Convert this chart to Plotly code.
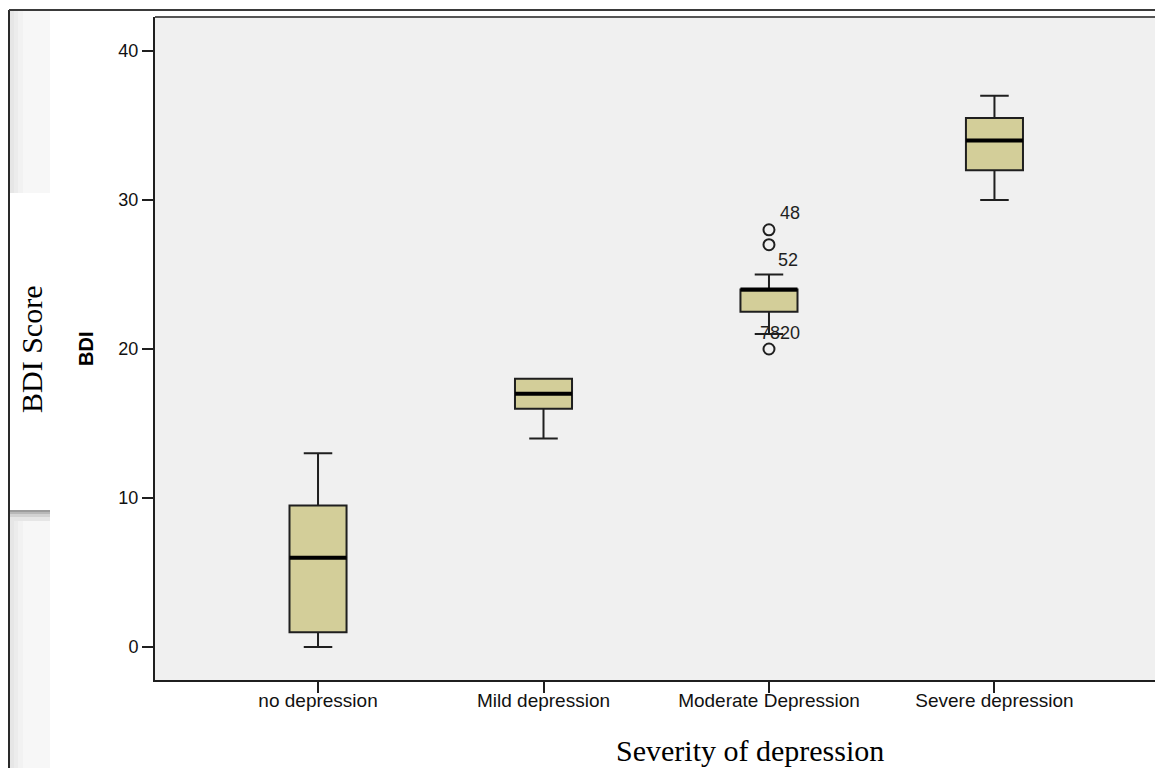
import plotly.graph_objects as go

# Box-plot summary of BDI score per severity group
categories = ["no depression", "Mild depression", "Moderate Depression", "Severe depression"]
lower_whisker = [0, 14, 21, 30]
q1 = [1, 16, 22.5, 32]
median = [6, 17, 24, 34]
q3 = [9.5, 18, 24, 35.5]
upper_whisker = [13, 18, 25, 37]

# Outlying cases (group index, value)
outlier_group = [2, 2, 2]
outlier_value = [28, 27, 20]

# Case labels printed beside the outliers (group index, level, text)
case_label_group = [2, 2, 2]
case_label_level = [29.1, 26.0, 21.1]
case_label_text = ["48", "52", "7820"]

y_ticks = [0, 10, 20, 30, 40]

# ---- layout geometry (pixels) ----
W, H = 1155, 768
ML, MR, MT, MB = 155, 0, 17, 88
BOX_W = 0.253
FILL = "#D3CE99"
INK = "#1f1f1f"
# horizontal nudge (data units) of each case label from its group centre
LABEL_DX = [0.04, 0.03, -0.05]


def px_x(p):
    return (p - ML) / (W - ML - MR)


def px_y(p):
    return (H - MB - p) / (H - MT - MB)


fig = go.Figure()

for i, cat in enumerate(categories):
    fig.add_trace(go.Box(
        x=[i], q1=[q1[i]], median=[median[i]], q3=[q3[i]],
        lowerfence=[lower_whisker[i]], upperfence=[upper_whisker[i]],
        width=BOX_W, whiskerwidth=0.5,
        fillcolor=FILL, line=dict(color=INK, width=2),
        boxpoints=False, name=cat, showlegend=False, hoverinfo="skip",
    ))
    # heavier median bar
    fig.add_trace(go.Scatter(
        x=[i - BOX_W / 2, i + BOX_W / 2], y=[median[i], median[i]],
        mode="lines", line=dict(color="#000000", width=4),
        showlegend=False, hoverinfo="skip",
    ))

fig.add_trace(go.Scatter(
    x=outlier_group, y=outlier_value, mode="markers",
    marker=dict(symbol="circle-open", size=11, color=INK, line=dict(width=2)),
    showlegend=False, hoverinfo="skip",
))

annotations = []
for g, lvl, txt, dx in zip(case_label_group, case_label_level, case_label_text, LABEL_DX):
    annotations.append(dict(
        x=g + dx, y=lvl, xref="x", yref="y", text=txt, showarrow=False,
        xanchor="left", yanchor="middle",
        font=dict(family="Liberation Sans, Arial", size=18, color=INK),
    ))

# axis titles
annotations.append(dict(
    x=px_x(86), y=px_y(349), xref="paper", yref="paper", text="<b>BDI</b>",
    textangle=-90, showarrow=False, xanchor="center", yanchor="middle",
    font=dict(family="Liberation Sans, Arial", size=20, color="#000000"),
))
annotations.append(dict(
    x=px_x(31), y=px_y(350), xref="paper", yref="paper", text="BDI Score",
    textangle=-90, showarrow=False, xanchor="center", yanchor="middle",
    font=dict(family="Liberation Serif, Times New Roman", size=30, color="#000000"),
))
annotations.append(dict(
    x=px_x(750), y=px_y(750), xref="paper", yref="paper", text="Severity of depression",
    showarrow=False, xanchor="center", yanchor="middle",
    font=dict(family="Liberation Serif, Times New Roman", size=30, color="#000000"),
))

shapes = []


def rect(x0, y0, x1, y1, color):
    shapes.append(dict(type="rect", xref="paper", yref="paper",
                       x0=px_x(x0), x1=px_x(x1), y0=px_y(y1), y1=px_y(y0),
                       fillcolor=color, line=dict(width=0), layer="above"))


def line(x0, y0, x1, y1, color, width):
    shapes.append(dict(type="line", xref="paper", yref="paper",
                       x0=px_x(x0), x1=px_x(x1), y0=px_y(y0), y1=px_y(y1),
                       line=dict(color=color, width=width), layer="above"))


# shaded side strips beside the title panel
for top, bot in [(11, 193), (510, 768)]:
    rect(10, top, 50, bot, "#f7f7f7")
    rect(10, top, 14, bot, "#e6e6e6")
    rect(14, top, 18, bot, "#ececec")
    rect(18, top, 23, bot, "#f2f2f2")
rect(10, 510, 50, 512, "#9c9c9c")
rect(10, 512, 50, 514, "#b8b8b8")
rect(10, 514, 50, 517, "#d2d2d2")
rect(10, 517, 50, 521, "#e6e6e6")

# outer frame
line(9, 10, 9, 770, "#2a2a2a", 2)
line(9, 10, 1160, 10, "#3a3a3a", 2)
# top edge of the data region
line(155, 17, 1160, 17, "#555555", 2)

fig.update_layout(
    width=W, height=H,
    margin=dict(l=ML, r=MR, t=MT, b=MB, pad=0),
    paper_bgcolor="#ffffff", plot_bgcolor="#f0f0f0",
    annotations=annotations, shapes=shapes,
    xaxis=dict(
        range=[-0.723, 3.712], tickvals=list(range(len(categories))), ticktext=categories,
        showgrid=False, zeroline=False, showline=True, linecolor=INK, linewidth=2,
        ticks="outside", ticklen=11, tickwidth=2, tickcolor=INK,
        ticklabelstandoff=-9,
        tickfont=dict(family="Liberation Sans, Arial", size=19, color="#111111"),
    ),
    yaxis=dict(
        range=[-2.21, 42.28], tickvals=y_ticks,
        showgrid=False, zeroline=False, showline=True, linecolor=INK, linewidth=2,
        ticks="outside", ticklen=11, tickwidth=2, tickcolor=INK,
        tickfont=dict(family="Liberation Sans, Arial", size=18, color="#111111"),
    ),
)

fig.write_html("out.html")
